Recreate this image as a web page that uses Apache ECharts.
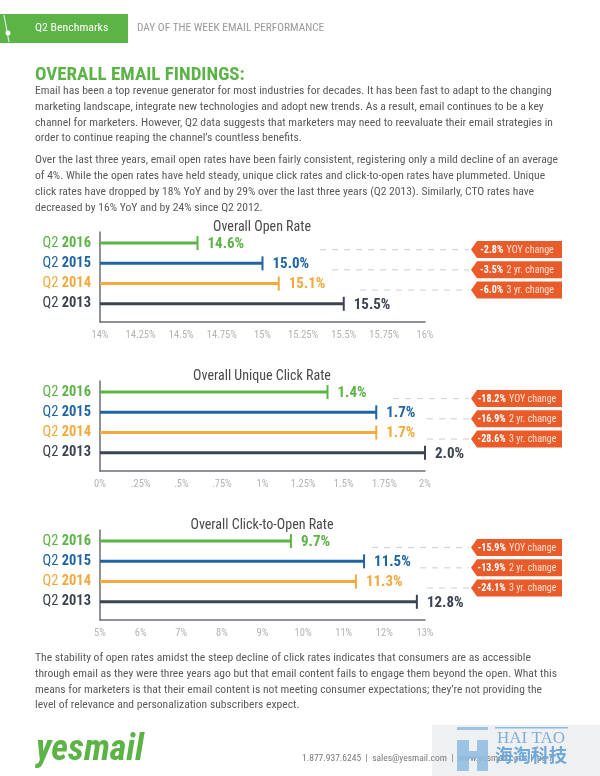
<!DOCTYPE html>
<html>
<head>
<meta charset="utf-8">
<script src="https://cdn.jsdelivr.net/npm/echarts@6/dist/echarts.min.js"></script>
<style>html,body{margin:0;padding:0;background:#fff}#c{width:600px;height:776px}</style>
</head>
<body>
<div id="c"></div>
<script>
// ---------- DATA ----------
const categories = ['2016', '2015', '2014', '2013'];
const openRate = [14.6, 15.0, 15.1, 15.5];
const clickRate = [1.4, 1.7, 1.7, 2.0];
const ctoRate = [9.7, 11.5, 11.3, 12.8];
const openChange = ['-2.8%', '-3.5%', '-6.0%'];
const clickChange = ['-18.2%', '-16.9%', '-28.6%'];
const ctoChange = ['-15.9%', '-13.9%', '-24.1%'];
const changeLabels = ['YOY change', '2 yr. change', '3 yr. change'];
const openTicks = ['14%', '14.25%', '14.5%', '14.75%', '15%', '15.25%', '15.5%', '15.75%', '16%'];
const clickTicks = ['0%', '.25%', '.5%', '.75%', '1%', '1.25%', '1.5%', '1.75%', '2%'];
const ctoTicks = ['5%', '6%', '7%', '8%', '9%', '10%', '11%', '12%', '13%'];
const chartTitles = ['Overall Open Rate', 'Overall Unique Click Rate', 'Overall Click-to-Open Rate'];

const para1 = [
  'Email has been a top revenue generator for most industries for decades. It has been fast to adapt to the changing',
  'marketing landscape, integrate new technologies and adopt new trends. As a result, email continues to be a key',
  'channel for marketers. However, Q2 data suggests that marketers may need to reevaluate their email strategies in',
  'order to continue reaping the channel\u2019s countless benefits.'
];
const para2 = [
  'Over the last three years, email open rates have been fairly consistent, registering only a mild decline of an average',
  'of 4%. While the open rates have held steady, unique click rates and click-to-open rates have plummeted. Unique',
  'click rates have dropped by 18% YoY and by 29% over the last three years (Q2 2013). Similarly, CTO rates have',
  'decreased by 16% YoY and by 24% since Q2 2012.'
];
const para3 = [
  'The stability of open rates amidst the steep decline of click rates indicates that consumers are as accessible',
  'through email as they were three years ago but that email content fails to engage them beyond the open. What this',
  'means for marketers is that their email content is not meeting consumer expectations; they\u2019re not providing the',
  'level of relevance and personalization subscribers expect.'
];

// ---------- STYLE ----------
const FONT = "'Liberation Sans Narrow', 'Roboto Condensed', 'Roboto', sans-serif";
const GREEN = '#5cb346';
const rowColors = ['#5cb346', '#1f65a3', '#f3a93c', '#3c4451'];
const BOX = '#ea5b2a';
const TEXT = '#5a5a5a';

const charts = [
  { data: openRate, change: openChange, ticks: openTicks, min: 14, max: 16, interval: 0.25, top: 232, dash: [320, 332, 360] },
  { data: clickRate, change: clickChange, ticks: clickTicks, min: 0, max: 2, interval: 0.25, top: 381, dash: [393, 427, 427] },
  { data: ctoRate, change: ctoChange, ticks: ctoTicks, min: 5, max: 13, interval: 1, top: 530, dash: [372, 420, 427] }
];
const GRID_LEFT = 100, GRID_W = 325, GRID_H = 90;
const BOX_TIP = 471, BOX_L = 477, BOX_R = 562;

const rich = {};
rowColors.forEach((c, i) => {
  rich['l' + i] = { color: c, fontSize: 14.5, fontFamily: FONT, fontWeight: 'normal' };
  rich['b' + i] = { color: c, fontSize: 14.5, fontFamily: FONT, fontWeight: 'bold' };
});

const grid = [], xAxis = [], yAxis = [], series = [];
charts.forEach((ch, k) => {
  grid.push({ left: GRID_LEFT, top: ch.top, width: GRID_W, height: GRID_H });
  xAxis.push({
    type: 'value', gridIndex: k, min: ch.min, max: ch.max, interval: ch.interval,
    axisLine: { show: true, onZero: false, lineStyle: { color: '#6a6f75', width: 1.5 } },
    axisTick: { show: false }, splitLine: { show: false },
    axisLabel: { color: '#b3b3b3', fontSize: 10.5, fontFamily: FONT, margin: 8,
      formatter: (v, i) => ch.ticks[i] }
  });
  yAxis.push({
    type: 'value', gridIndex: k, inverse: true, min: -0.55, max: 3.9,
    axisLine: { show: true, onZero: false, lineStyle: { color: '#6a6f75', width: 1.5 } },
    axisTick: { show: false }, splitLine: { show: false },
    axisLabel: {
      customValues: [0, 1, 2, 3], margin: 9, rich: rich,
      formatter: (v) => { const i = Math.round(v); return '{l' + i + '|Q2 }{b' + i + '|' + categories[i] + '}'; }
    }
  });
  series.push({
    type: 'custom', xAxisIndex: k, yAxisIndex: k, clip: false,
    data: ch.data.map((v, i) => [v, i]),
    renderItem: (params, api) => {
      const val = api.value(0), idx = api.value(1);
      const color = rowColors[idx];
      const p0 = api.coord([ch.min, idx]);
      const p1 = api.coord([val, idx]);
      const children = [
        { type: 'line', shape: { x1: p0[0], y1: p0[1], x2: p1[0], y2: p1[1] }, style: { stroke: color, lineWidth: 3 } },
        { type: 'line', shape: { x1: p1[0], y1: p1[1] - 7, x2: p1[0], y2: p1[1] + 7 }, style: { stroke: color, lineWidth: 2 } },
        { type: 'text', x: p1[0] + 10, y: p1[1] + 1, style: { text: val.toFixed(1) + '%', fill: color, font: 'bold 15px ' + FONT, verticalAlign: 'middle', align: 'left' } }
      ];
      if (idx < 3) {
        const y = p1[1] + 6.5;
        children.push({ type: 'line', shape: { x1: ch.dash[idx], y1: y, x2: BOX_TIP - 2, y2: y }, style: { stroke: '#cfcfcf', lineWidth: 1, lineDash: [6, 6] } });
        children.push({ type: 'polygon', shape: { points: [[BOX_TIP, y], [BOX_L, y - 8.5], [BOX_R, y - 8.5], [BOX_R, y + 8.5], [BOX_L, y + 8.5]] }, style: { fill: BOX } });
        children.push({ type: 'text', x: 517, y: y + 0.5, style: {
          text: '{b|' + ch.change[idx] + '} {n|' + changeLabels[idx] + '}', align: 'center', verticalAlign: 'middle',
          rich: { b: { fill: '#fff', fontWeight: 'bold', fontSize: 10, fontFamily: FONT }, n: { fill: '#fde3d8', fontSize: 10, fontFamily: FONT } }
        } });
      }
      return { type: 'group', children: children };
    }
  });
});

// ---------- GRAPHIC TEXT ----------
const graphic = [];
function txt(t, x, y, font, fill, align) {
  graphic.push({ type: 'text', x: x, y: y, style: { text: t, font: font, fill: fill, align: align || 'left', verticalAlign: 'middle' } });
}
graphic.push({ type: 'rect', shape: { x: 0, y: 14, width: 128, height: 29 }, style: { fill: GREEN } });
graphic.push({ type: 'line', shape: { x1: 4, y1: 15, x2: 9, y2: 42 }, style: { stroke: '#fff', lineWidth: 1.2, opacity: 0.8 } });
graphic.push({ type: 'circle', shape: { cx: 8, cy: 33, r: 2.5 }, style: { fill: '#fff' } });
txt('Q2 Benchmarks', 35, 28.5, '11.8px ' + FONT, '#ffffff');
txt('DAY OF THE WEEK EMAIL PERFORMANCE', 137, 28.5, '11.3px ' + FONT, '#9a9a9a');
txt('OVERALL EMAIL FINDINGS:', 35, 75, 'bold 19px ' + FONT, GREEN);
para1.forEach((l, i) => txt(l, 35, 91 + i * 15.8, '11.6px ' + FONT, TEXT));
para2.forEach((l, i) => txt(l, 35, 160.5 + i * 15.8, '11.6px ' + FONT, TEXT));
para3.forEach((l, i) => txt(l, 35, 658 + i * 15.8, '11.6px ' + FONT, TEXT));
charts.forEach((ch, k) => txt(chartTitles[k], 262, ch.top - 5, '14px ' + FONT, '#4a4a4a', 'center'));

// footer
txt('yesmail', 36, 751, 'italic bold 36px ' + FONT, GREEN);
graphic.push({ type: 'rect', shape: { x: 432, y: 725, width: 168, height: 51 }, style: { fill: '#eef0f2' } });
txt('1.877.937.6245  |  sales@yesmail.com  |  www.yesmail.com  |  pg 7', 302, 759, '9.5px ' + FONT, '#7a7a7a');
graphic.push({ type: 'rect', shape: { x: 457, y: 727, width: 31, height: 3 }, style: { fill: '#8dbbe0', opacity: 0.85 } });
graphic.push({ type: 'rect', shape: { x: 457, y: 740, width: 12, height: 31 }, style: { fill: '#8dbbe0', opacity: 0.85 } });
graphic.push({ type: 'rect', shape: { x: 477, y: 740, width: 11, height: 31 }, style: { fill: '#8dbbe0', opacity: 0.85 } });
graphic.push({ type: 'rect', shape: { x: 469, y: 751, width: 8, height: 8 }, style: { fill: '#8dbbe0', opacity: 0.85 } });
graphic.push({ type: 'rect', shape: { x: 495, y: 727, width: 73, height: 1.5 }, style: { fill: '#8dbbe0' } });
txt('HAI TAO', 531, 739, '17px "Liberation Serif", serif', '#7eafdc', 'center');
txt('\u6d77\u6dd8\u79d1\u6280', 531, 755, 'bold 18px "Noto Sans CJK SC"', '#6fa8da', 'center');

const chart = echarts.init(document.getElementById('c'), null, { renderer: 'canvas' });
chart.setOption({ animation: false, grid: grid, xAxis: xAxis, yAxis: yAxis, series: series, graphic: graphic });
</script>
</body>
</html>
